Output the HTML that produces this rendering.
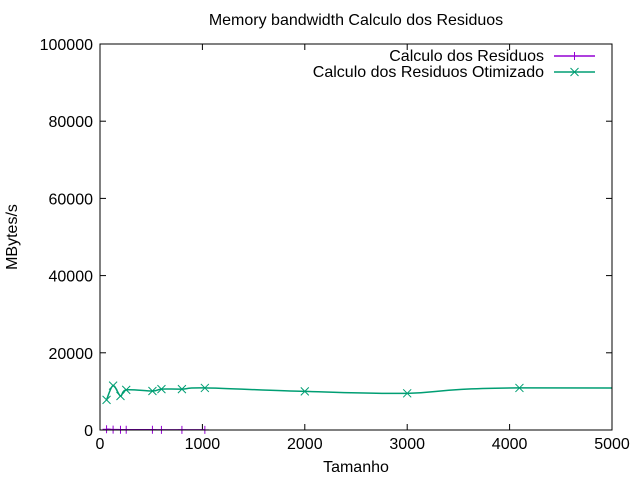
<!DOCTYPE html>
<html><head><meta charset="utf-8"><style>
body{margin:0;background:#fff}
svg{display:block;font-family:"Liberation Sans",sans-serif}
</style></head><body>
<svg id="chart" width="640" height="480" xmlns="http://www.w3.org/2000/svg">
<text x="356" y="25" text-anchor="middle" font-size="16">Memory bandwidth Calculo dos Residuos</text>
<text transform="translate(17,237) rotate(-90)" text-anchor="middle" font-size="16">MBytes/s</text>
<text x="356" y="472" text-anchor="middle" font-size="16">Tamanho</text>
<g id="ticks"></g>
<defs><clipPath id="pc"><rect x="100" y="44" width="512" height="386"/></clipPath></defs>
<g id="series" clip-path="url(#pc)"></g>
<g id="markers"></g>
<rect x="100" y="44" width="512" height="386" fill="none" stroke="#000" stroke-width="1"/>
<g id="legend"></g>
</svg>
<script>
const xTicks=[0,1000,2000,3000,4000,5000];
const yTicks=[0,20000,40000,60000,80000,100000];
const sizesA=[64,128,200,256,512,600,800,1024];
const valuesA=[200,100,80,60,50,40,40,30];
const sizesB=[64,128,200,256,512,600,800,1024,2000,3000,4096,8192];
const valuesB=[7800,11500,8800,10400,10100,10600,10600,10900,10000,9500,10900,10600];
const L=100,R=612,T=44,B=430,XMAX=5000,YMAX=100000;
const sx=v=>L+v/XMAX*(R-L), sy=v=>B-v/YMAX*(B-T);
const NS="http://www.w3.org/2000/svg";
function mk(tag,attrs,parent){const e=document.createElementNS(NS,tag);for(const k in attrs)e.setAttribute(k,attrs[k]);parent.appendChild(e);return e;}
const tg=document.getElementById('ticks');
xTicks.forEach(t=>{const x=sx(t);
 const l=mk('line',{x1:x,x2:x,y1:B,y2:B-6,stroke:'#000'},tg);
 
 
 const l2=mk('line',{x1:x,x2:x,y1:T,y2:T+6,stroke:'#000'},tg);
 
 
 const tx=mk('text',{x:x,y:B+19,'text-anchor':'middle','font-size':16},tg);tx.textContent=t;
 
 
});
yTicks.forEach(t=>{const y=sy(t);
 const l=mk('line',{x1:L,x2:L+6,y1:y,y2:y,stroke:'#000'},tg);
 
 
 const l2=mk('line',{x1:R,x2:R-6,y1:y,y2:y,stroke:'#000'},tg);
 
 
 const tx=mk('text',{x:L-7,y:y+6,'text-anchor':'end','font-size':16},tg);tx.textContent=t;
 
 
});
function smooth(xs,ys){const p=xs.map((x,i)=>[sx(x),sy(ys[i])]);let d='M'+p[0][0]+','+p[0][1];
 for(let i=0;i<p.length-1;i++){const p0=p[i-1]||p[i],p1=p[i],p2=p[i+1],p3=p[i+2]||p2;
  d+=` C${p1[0]+(p2[0]-p0[0])/6},${p1[1]+(p2[1]-p0[1])/6} ${p2[0]-(p3[0]-p1[0])/6},${p2[1]-(p3[1]-p1[1])/6} ${p2[0]},${p2[1]}`;}
 return d;}
const sg=document.getElementById('series'),mg=document.getElementById('markers');
const pa=mk('path',{d:smooth(sizesA,valuesA),fill:'none',stroke:'#9400d3','stroke-width':1.5},sg);


const pb=mk('path',{d:smooth(sizesB,valuesB),fill:'none',stroke:'#009e73','stroke-width':1.5},sg);


function plus(x,y,c,g){return mk('path',{d:`M${x-4},${y}h8M${x},${y-4}v8`,stroke:c,'stroke-width':1},g);}
function cross(x,y,c,g){return mk('path',{d:`M${x-4},${y-4}l8,8M${x-4},${y+4}l8,-8`,stroke:c,'stroke-width':1},g);}
sizesA.forEach((s,i)=>{const m=plus(sx(s),sy(valuesA[i]),'#9400d3',mg);
 
 });
sizesB.forEach((s,i)=>{if(s>XMAX)return;const m=cross(sx(s),sy(valuesB[i]),'#009e73',mg);
 
 });
const lg=document.getElementById('legend');
[['Calculo dos Residuos','#9400d3',56,plus],['Calculo dos Residuos Otimizado','#009e73',72,cross]].forEach(([t,c,y,f])=>{
 const g=mk('g',{},lg);
 
 
 const tx=mk('text',{x:544,y:y+5,'text-anchor':'end','font-size':16},g);tx.textContent=t;
 mk('line',{x1:554,x2:595,y1:y,y2:y,stroke:c,'stroke-width':1.5},g);
 f(574.5,y,c,g);
});
</script>
</body></html>
